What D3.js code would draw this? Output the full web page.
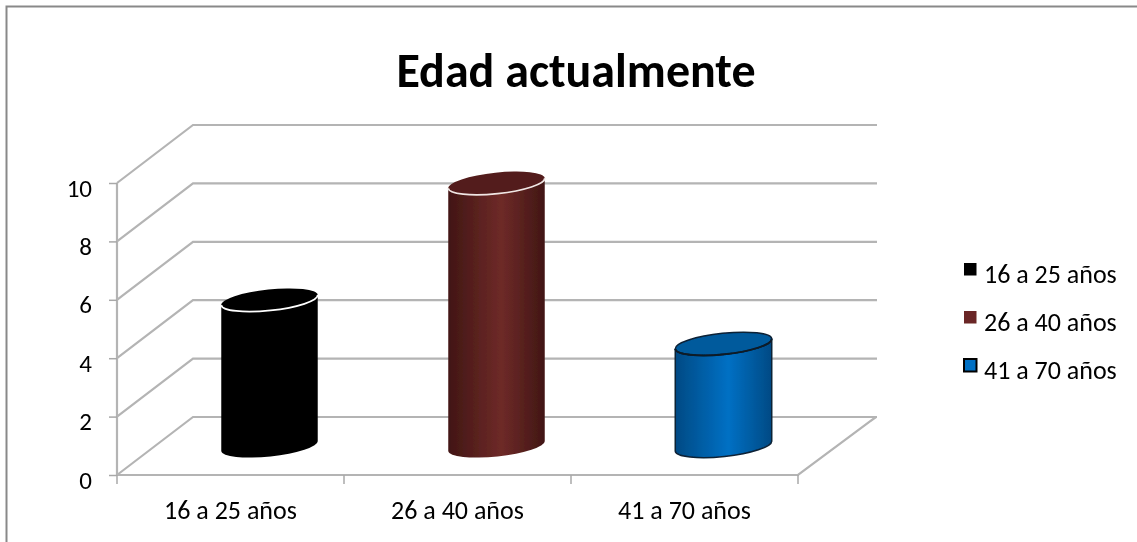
<!DOCTYPE html>
<html>
<head>
<meta charset="utf-8">
<script src="https://cdn.jsdelivr.net/npm/d3@7"></script>
<style>
  html, body { margin: 0; padding: 0; background: #fff; }
  svg { display: block; }
  text { font-family: Carlito, Lato, "Open Sans", sans-serif; fill: #000; }
</style>
</head>
<body>
<svg id="chart" width="1137" height="542"></svg>
<script>
const categories = ["16 a 25 años", "26 a 40 años", "41 a 70 años"];
const values = [5, 9, 3.5];
const yTicks = [0, 2, 4, 6, 8, 10];
const titleText = "Edad actualmente";

// side gradient stops and top colour per bar
const sideEdge = ["#000000", "#411614", "#034a84"];
const sideMid = ["#000000", "#6e2a28", "#0670c4"];
const topFill = ["#000000", "#521c1a", "#045a9c"];
const rimColor = ["#ffffff", "#f0e6e4", "#0a1a28"];
const legendFill = ["#000000", "#6b2826", "#0670c4"];

let root = d3.select("#chart");

let canvas = {"left": 117, "right": 798, "top": 183, "bottom": 475,
              "depthX": 78, "depthY": -58};

let xScale = d3.scaleBand()
  .domain(categories)
  .range([canvas.left, canvas.right]);

let yScale = d3.scaleLinear()
  .domain([0, 10])
  .range([canvas.bottom, canvas.top]);

// outer frame, only top and left are visible in the picture
root.append("path")
  .attr("d", "M6.5,542V6.5H1137")
  .attr("fill", "none")
  .attr("stroke", "#898989")
  .attr("stroke-width", 2);

let defs = root.append("defs");

// the original is a slightly soft screenshot
defs.append("filter")
  .attr("id", "soft")
  .attr("x", 0).attr("y", 0).attr("width", 1).attr("height", 1)
  .attr("filterUnits", "userSpaceOnUse")
  .attr("width", 1137).attr("height", 542)
  .append("feGaussianBlur")
  .attr("stdDeviation", 0.45);

let svg = root.append("g").attr("filter", "url(#soft)");

svg.append("text")
  .attr("x", 576)
  .attr("y", 87)
  .attr("text-anchor", "middle")
  .attr("font-size", 48)
  .attr("font-weight", "bold")
  .text(titleText);

categories.forEach((c, i) => {
  let g = defs.append("linearGradient")
    .attr("id", "side" + i)
    .attr("x1", 0).attr("x2", 1).attr("y1", 0).attr("y2", 0);
  g.append("stop").attr("offset", "0%").attr("stop-color", sideEdge[i]);
  g.append("stop").attr("offset", "55%").attr("stop-color", sideMid[i]);
  g.append("stop").attr("offset", "100%").attr("stop-color", sideEdge[i]);
});

// walls and floor
let grid = svg.append("g")
  .attr("fill", "none")
  .attr("stroke", "#b4b4b4")
  .attr("stroke-width", 2.2);

grid.selectAll(".wall")
  .data(yTicks)
  .join("path")
  .attr("class", "wall")
  .attr("d", d => `M${canvas.left},${yScale(d)}l${canvas.depthX - 2},${canvas.depthY}H${canvas.right + canvas.depthX + 1}`);

grid.append("path")
  .attr("d", `M${canvas.left},${canvas.top}V${canvas.bottom}H${canvas.right}l${canvas.depthX},${canvas.depthY}`);

// axes
let yAxis = d3.axisLeft(yScale).tickValues(yTicks).tickSize(8).tickPadding(18);
let gy = svg.append("g")
  .attr("transform", `translate(${canvas.left},0)`)
  .call(yAxis);
gy.select(".domain").remove();
gy.selectAll("line").attr("stroke", "#a8a8a8").attr("stroke-width", 1.5);
gy.selectAll("text").attr("font-size", 25).attr("dy", "0.32em").attr("dx", 1).attr("transform", "translate(0,5)");

let xAxis = d3.axisBottom(xScale).tickSize(0).tickPadding(31);
let gx = svg.append("g")
  .attr("transform", `translate(0,${canvas.bottom})`)
  .call(xAxis);
gx.select(".domain").remove();
gx.selectAll("text").attr("font-size", 26).attr("dy", "0.5em");

svg.append("g")
  .selectAll("line")
  .data(d3.range(categories.length + 1))
  .join("line")
  .attr("x1", d => canvas.left + d * xScale.bandwidth())
  .attr("x2", d => canvas.left + d * xScale.bandwidth())
  .attr("y1", canvas.bottom)
  .attr("y2", canvas.bottom + 9)
  .attr("stroke", "#a8a8a8")
  .attr("stroke-width", 1.5);

// cylinders stand half way into the floor
const rx = 48.5, ry = 10.5, tilt = -6;
const cosT = Math.cos(tilt * Math.PI / 180), sinT = Math.sin(tilt * Math.PI / 180);

function cylinderParts(d, i) {
  let cx = xScale(categories[i]) + xScale.bandwidth() / 2 + canvas.depthX / 2;
  let baseY = yScale(0) + canvas.depthY / 2;
  let topY = yScale(d) + canvas.depthY / 2;
  let dx = rx * cosT, dy = rx * sinT;
  return {cx, baseY, topY, dx, dy,
    side: `M${cx - dx},${topY - dy}L${cx - dx},${baseY - dy}` +
          `A${rx},${ry} ${tilt} 0 0 ${cx + dx},${baseY + dy}` +
          `L${cx + dx},${topY + dy}` +
          `A${rx},${ry} ${tilt} 0 1 ${cx - dx},${topY - dy}Z`,
    rim: `M${cx - dx},${topY - dy}A${rx},${ry} ${tilt} 0 0 ${cx + dx},${topY + dy}`
  };
}

let bars = svg.selectAll(".bar")
  .data(values)
  .join("g")
  .attr("class", "bar");

bars.append("path")
  .attr("d", (d, i) => cylinderParts(d, i).side)
  .attr("fill", (d, i) => `url(#side${i})`)
  .attr("stroke", (d, i) => i === 2 ? "#0a2036" : "none")
  .attr("stroke-width", 1.5);

bars.append("ellipse")
  .attr("cx", (d, i) => cylinderParts(d, i).cx)
  .attr("cy", (d, i) => cylinderParts(d, i).topY)
  .attr("rx", rx)
  .attr("ry", ry)
  .attr("transform", (d, i) => {
    let p = cylinderParts(d, i);
    return `rotate(${tilt} ${p.cx} ${p.topY})`;
  })
  .attr("fill", (d, i) => topFill[i])
  .attr("stroke", (d, i) => i === 2 ? "#0a2036" : "none")
  .attr("stroke-width", 1.5);

bars.append("path")
  .attr("d", (d, i) => cylinderParts(d, i).rim)
  .attr("fill", "none")
  .attr("stroke", (d, i) => rimColor[i])
  .attr("stroke-width", 1.8);

// legend
let legendY = d3.scalePoint()
  .domain(categories)
  .range([276, 372]);

let legend = svg.selectAll(".legend")
  .data(categories)
  .join("g")
  .attr("class", "legend")
  .attr("transform", d => `translate(0,${legendY(d)})`);

legend.append("rect")
  .attr("x", 964)
  .attr("y", -13)
  .attr("width", 12.5)
  .attr("height", 12.5)
  .attr("fill", (d, i) => legendFill[i])
  .attr("stroke", (d, i) => i === 2 ? "#000" : "none")
  .attr("stroke-width", 2);

legend.append("text")
  .attr("x", 984)
  .attr("y", 7)
  .attr("font-size", 26)
  .text(d => d);
</script>
</body>
</html>
